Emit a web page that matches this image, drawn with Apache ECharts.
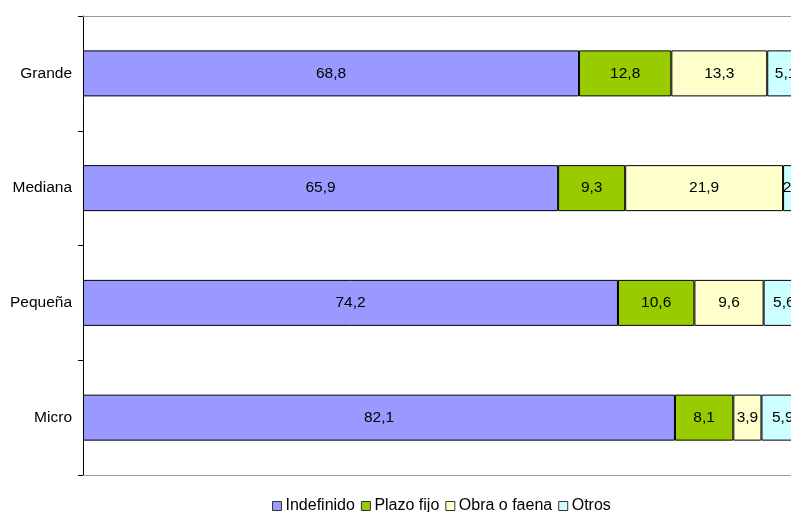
<!DOCTYPE html>
<html><head><meta charset="utf-8">
<script src="https://cdn.jsdelivr.net/npm/echarts@6/dist/echarts.min.js"></script>
<style>html,body{margin:0;padding:0;background:#fff;overflow:hidden;width:791px;height:512px}#c{width:804px;height:512px}</style>
</head><body><div id="c"></div>
<script>
var categories = ['Grande', 'Mediana', 'Pequeña', 'Micro'];
var seriesNames = ['Indefinido', 'Plazo fijo', 'Obra o faena', 'Otros'];
var indefinido = [68.8, 65.9, 74.2, 82.1];
var plazoFijo = [12.8, 9.3, 10.6, 8.1];
var obraFaena = [13.3, 21.9, 9.6, 3.9];
var otros = [5.1, 2.9, 5.6, 5.9];
var colors = ['#9999FF', '#99CC00', '#FFFFCC', '#CCFFFF'];
var values = [indefinido, plazoFijo, obraFaena, otros];

var chart = echarts.init(document.getElementById('c'));
var font = 'Liberation Sans, Arial, sans-serif';
chart.setOption({
  animation: false,
  textStyle: {fontFamily: font},
  grid: {left: 83, right: 0, top: 16, bottom: 37, containLabel: false},
  xAxis: [
    {type: 'value', min: 0, max: 100, position: 'bottom', axisLabel: {show: false}, axisTick: {show: false}, splitLine: {show: false}, axisLine: {show: true, lineStyle: {color: '#999999', width: 1}}},
    {type: 'value', min: 0, max: 100, position: 'top', axisLabel: {show: false}, axisTick: {show: false}, splitLine: {show: false}, axisLine: {show: true, lineStyle: {color: '#999999', width: 1}}}
  ],
  yAxis: {
    type: 'category', data: categories, inverse: true,
    axisLine: {show: true, lineStyle: {color: '#000', width: 1}},
    axisTick: {show: true, length: 5, lineStyle: {color: '#000'}},
    axisLabel: {color: '#000', fontSize: 15.5, fontFamily: font, margin: 11}
  },
  legend: {
    top: 493, left: 267, itemWidth: 9, itemHeight: 9, itemGap: 6,
    textStyle: {color: '#000', fontSize: 16, fontFamily: font, padding: [0,0,0,-1]},
    data: seriesNames.map(function(n, i){ return {name: n, icon: 'rect', itemStyle: {color: colors[i], borderColor: '#333', borderWidth: 1}}; })
  },
  series: seriesNames.map(function(n, i){
    return {
      name: n, type: 'bar', stack: 'total', barWidth: 46, data: values[i],
      itemStyle: {color: colors[i], borderColor: '#000', borderWidth: 1},
      label: {show: true, position: 'inside', color: '#000', fontSize: 15.5, fontFamily: font,
        formatter: function(p){ return String(p.value).replace('.', ','); }}
    };
  })
});
</script></body></html>
